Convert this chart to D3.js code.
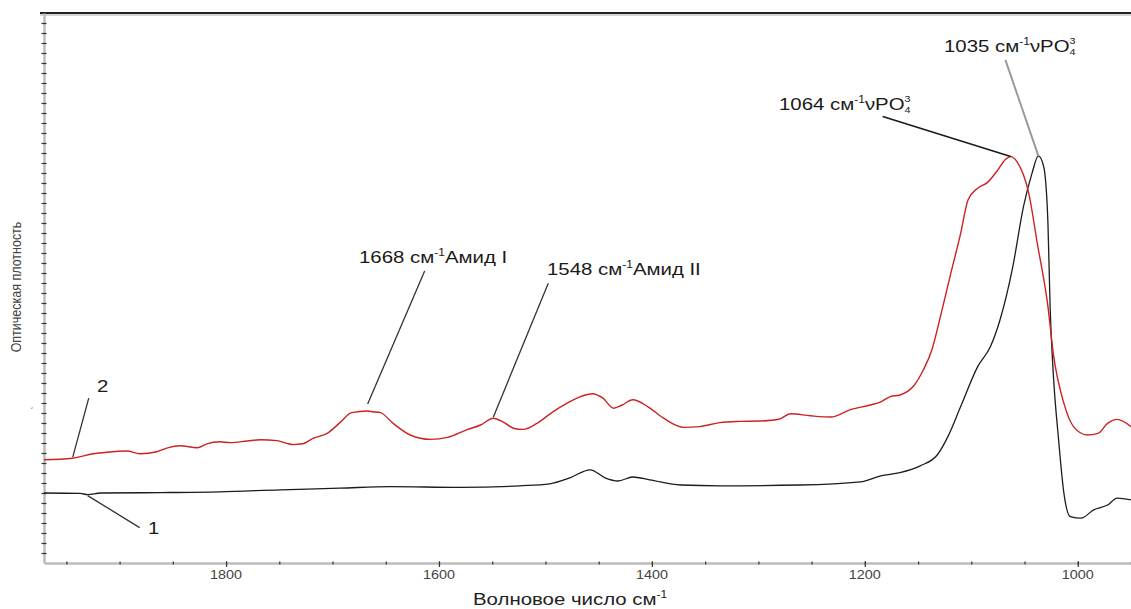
<!DOCTYPE html>
<html>
<head>
<meta charset="utf-8">
<script src="https://cdn.jsdelivr.net/npm/d3@7"></script>
<style>
  body { margin: 0; background: #fff; }
  text { font-family: "Liberation Sans", Arial, sans-serif; }
</style>
</head>
<body>
<div id="chart"></div>
<script>
const W = 1131, H = 609;
const plot = {left: 44, right: 1131, top: 13, bottom: 563};

// wavenumbers (cm-1) and optical density
const wn2 = [1971, 1944, 1925, 1912, 1893, 1881, 1865, 1855, 1843, 1827, 1818, 1806, 1796, 1780, 1768, 1752,
  1743, 1737, 1728, 1718, 1705, 1693, 1682, 1667, 1662, 1655, 1643, 1627, 1608, 1592, 1574, 1561, 1549,
  1540, 1530, 1521, 1508, 1493, 1480, 1467, 1456, 1446, 1436, 1428, 1418, 1404, 1389, 1370, 1355, 1336,
  1318, 1298, 1280, 1270, 1251, 1232, 1214, 1195, 1185, 1176, 1167, 1154, 1145, 1137, 1129, 1120, 1110,
  1103, 1094, 1085, 1075, 1068, 1063, 1057, 1046, 1038, 1028, 1023, 1013, 1004, 991, 981, 972, 963, 950];
const od2 = [0.258, 0.262, 0.273, 0.277, 0.280, 0.273, 0.278, 0.288, 0.293, 0.288, 0.298, 0.303, 0.301, 0.305,
  0.308, 0.306, 0.299, 0.296, 0.298, 0.312, 0.324, 0.351, 0.376, 0.380, 0.378, 0.376, 0.349, 0.320, 0.309,
  0.314, 0.333, 0.345, 0.362, 0.353, 0.337, 0.334, 0.349, 0.378, 0.399, 0.416, 0.423, 0.412, 0.387, 0.395,
  0.408, 0.391, 0.362, 0.339, 0.341, 0.351, 0.354, 0.355, 0.360, 0.373, 0.368, 0.365, 0.383, 0.395, 0.403,
  0.416, 0.420, 0.443, 0.483, 0.533, 0.616, 0.716, 0.824, 0.908, 0.937, 0.951, 0.983, 1.009, 1.016, 1.003,
  0.924, 0.799, 0.641, 0.524, 0.399, 0.341, 0.320, 0.324, 0.349, 0.359, 0.341];

const wn1 = [1971, 1937, 1930, 1918, 1862, 1806, 1749, 1693, 1646, 1580, 1524, 1496, 1477, 1458, 1444, 1432,
  1418, 1402, 1373, 1336, 1261, 1204, 1185, 1167, 1148, 1132, 1122, 1110, 1094, 1082, 1073, 1061, 1051,
  1043, 1037, 1032, 1028, 1026, 1023, 1018, 1013, 1007, 997, 985, 972, 963, 950];
const od1 = [0.175, 0.174, 0.171, 0.175, 0.176, 0.178, 0.183, 0.187, 0.191, 0.189, 0.193, 0.198, 0.213, 0.233,
  0.213, 0.205, 0.215, 0.208, 0.195, 0.193, 0.195, 0.203, 0.218, 0.226, 0.243, 0.270, 0.316, 0.391, 0.491,
  0.541, 0.608, 0.741, 0.891, 0.974, 1.018, 0.991, 0.849, 0.641, 0.474, 0.308, 0.174, 0.116, 0.112, 0.133,
  0.145, 0.162, 0.158];

const xMajor = [1800, 1600, 1400, 1200, 1000];
const xMinor = d3.range(1950, 949, -50);

const svg = d3.select("#chart")
    .append("svg")
    .attr("width", W)
    .attr("height", H)
    .style("background", "#fff");

const x = d3.scaleLinear()
    .domain([1971, 950])
    .range([plot.left, plot.right]);

const y = d3.scaleLinear()
    .domain([0, 1.375])
    .range([plot.bottom, plot.top]);

// stretched text helper (the original figure is widened horizontally)
function stext(g, px, py, size, anchor) {
    return g.append("text")
        .attr("transform", `translate(${px},${py}) scale(1.2,1)`)
        .attr("font-size", size + "px")
        .attr("text-anchor", anchor || "start");
}

// top border
svg.append("line")
    .attr("x1", 40).attr("x2", W)
    .attr("y1", plot.top).attr("y2", plot.top)
    .attr("stroke", "#222").attr("stroke-width", 2);
svg.append("line")
    .attr("x1", 40).attr("x2", W)
    .attr("y1", plot.top + 2).attr("y2", plot.top + 2)
    .attr("stroke", "#c8c8c0").attr("stroke-width", 1.5);

// left axis, unlabeled
const yAxis = svg.append("g")
    .attr("transform", `translate(${plot.left},0)`)
    .call(d3.axisLeft(y).tickValues(d3.range(0.025, 1.36, 0.025)).tickFormat("").tickSizeOuter(0));
yAxis.select(".domain").attr("stroke", "#bcbcbc").attr("stroke-width", 2.5);
yAxis.selectAll(".tick line").attr("x1", -2.5).attr("x2", 2.5).attr("stroke", "#333").attr("stroke-width", 1.2);

// bottom axis
const xAxisMinor = svg.append("g")
    .attr("transform", `translate(0,${plot.bottom})`)
    .call(d3.axisBottom(x).tickValues(xMinor).tickFormat("").tickSizeOuter(0));
xAxisMinor.select(".domain").attr("stroke", "#bcbcbc").attr("stroke-width", 2.5);
xAxisMinor.selectAll(".tick line").attr("y1", -1.5).attr("y2", 1.5).attr("stroke", "#333").attr("stroke-width", 1.2);

const xAxis = svg.append("g")
    .attr("transform", `translate(0,${plot.bottom})`)
    .call(d3.axisBottom(x).tickValues(xMajor).tickFormat("").tickSizeOuter(0));
xAxis.select(".domain").remove();
xAxis.selectAll(".tick line").attr("y1", -1.5).attr("y2", 4).attr("stroke", "#333").attr("stroke-width", 1.2);

xMajor.forEach(function(v) {
    stext(svg, x(v), plot.bottom + 16, 12, "middle")
        .attr("fill", "#444")
        .text(v);
});

// axis titles
const xt = stext(svg, 473, 605, 17, "start").attr("fill", "#222");
xt.append("tspan").text("Волновое число см");
xt.append("tspan").attr("font-size", "10px").attr("baseline-shift", "7").text("-1");

svg.append("text")
    .attr("transform", "translate(21,287) scale(1.2,1) rotate(-90)")
    .attr("font-size", "12.5px")
    .attr("text-anchor", "middle")
    .attr("fill", "#444")
    .text("Оптическая плотность");
svg.append("text")
    .attr("x", 30).attr("y", 407)
    .attr("font-size", "10px")
    .attr("fill", "#555")
    .text("ˏ");

// spectra
const line = d3.line()
    .curve(d3.curveMonotoneX)
    .x(d => x(d[0]))
    .y(d => y(d[1]));

const s1 = wn1.map((v, i) => [v, od1[i]]);
const s2 = wn2.map((v, i) => [v, od2[i]]);

svg.append("path")
    .datum(s1)
    .attr("fill", "none")
    .attr("stroke", "#1c1c1c")
    .attr("stroke-width", 1.3)
    .attr("d", line);

svg.append("path")
    .datum(s2)
    .attr("fill", "none")
    .attr("stroke", "#cc2222")
    .attr("stroke-width", 1.4)
    .attr("d", line);

// annotations: tip on the curve, leader start offset, label position
function at(series, w) {
    let best = series[0];
    series.forEach(function(d) { if (Math.abs(d[0] - w) < Math.abs(best[0] - w)) best = d; });
    return [x(w), y(best[1])];
}

function leader(tip, dx, dy, endDy, color, width) {
    svg.append("line")
        .attr("x1", tip[0] + dx).attr("y1", tip[1] + dy)
        .attr("x2", tip[0]).attr("y2", tip[1] + endDy)
        .attr("stroke", color)
        .attr("stroke-width", width);
}

function peakLabel(px, py, num, tail) {
    const t = stext(svg, px, py, 17, "start").attr("fill", "#1a1a1a");
    t.append("tspan").text(num + " см");
    t.append("tspan").attr("font-size", "10px").attr("baseline-shift", "7").text("-1");
    if (tail === "PO") {
        t.append("tspan").text("νPO");
        t.append("tspan").attr("font-size", "9px").attr("baseline-shift", "-3").text("4");
        t.append("tspan").attr("font-size", "9px").attr("dx", -5).attr("baseline-shift", "8").text("3");
    } else {
        t.append("tspan").text(tail);
    }
}

let tip = at(s1, 1037);
leader(tip, -33, -96, 0, "#9a9a9a", 2);
peakLabel(944, 52, "1035", "PO");

tip = at(s2, 1063);
leader(tip, -128, -40, 0, "#1a1a1a", 1.6);
peakLabel(779, 110, "1064", "PO");

tip = at(s2, 1667);
leader(tip, 57, -140, -7, "#333", 1.3);
peakLabel(359, 263, "1668", "Амид I");

tip = at(s2, 1549);
leader(tip, 55, -135, -1, "#333", 1.3);
peakLabel(547, 275, "1548", "Амид II");

tip = at(s2, 1944);
leader(tip, 16, -60, -1, "#333", 1.3);
stext(svg, 97, 392, 17, "start").attr("fill", "#1a1a1a").text("2");

tip = at(s1, 1930);
leader(tip, 52, 33, 1, "#333", 1.3);
stext(svg, 148, 534, 17, "start").attr("fill", "#1a1a1a").text("1");
</script>
</body>
</html>
